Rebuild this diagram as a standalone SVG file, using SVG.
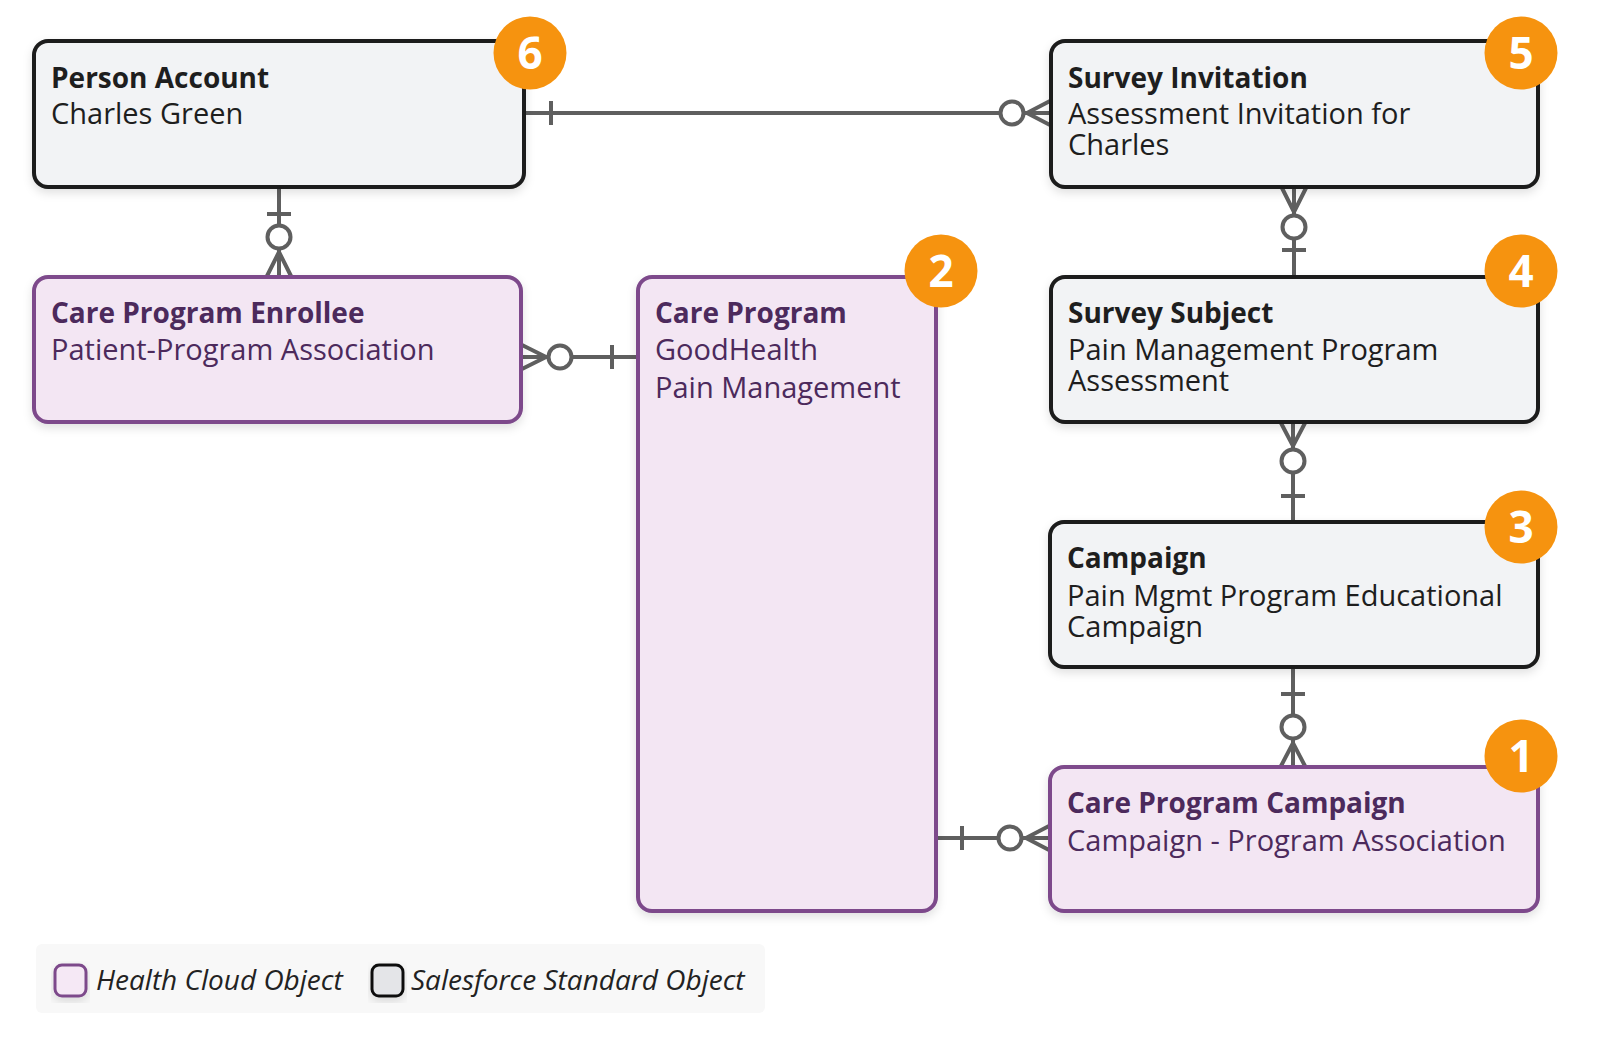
<svg xmlns="http://www.w3.org/2000/svg" width="1600" height="1043" viewBox="0 0 1600 1043">
<defs>
<filter id="sh" x="-10%" y="-10%" width="120%" height="130%">
<feDropShadow dx="0" dy="4" stdDeviation="5" flood-color="#000" flood-opacity="0.12"/>
</filter>
</defs>
<style>
.std{fill:#f2f3f5;stroke:#1b1b1b;stroke-width:4}
.hc{fill:#f3e6f3;stroke:#7d4a8b;stroke-width:4}
.t{font-family:"Open Sans","Noto Sans",sans-serif;font-size:29px}
.b{font-weight:700;font-size:28px}
.sd{fill:#1e1e1e}
.hp{fill:#4c2a5c}
.badge{fill:#f6930f}
.bn{font-family:"Open Sans","Noto Sans",sans-serif;font-size:44px;font-weight:700;fill:#fff;text-anchor:middle}
.c{stroke:#5f5f5f;stroke-width:4;fill:none}
.o{stroke:#5f5f5f;stroke-width:4;fill:#fff}
.lg{font-family:"Open Sans","Noto Sans",sans-serif;font-size:28px;font-style:italic;fill:#222}
</style>
<rect width="1600" height="1043" fill="#fff"/>

<g id="connectors">
<!-- Person Account to Survey Invitation -->
<line class="c" x1="524" y1="113" x2="1051" y2="113"/>
<line class="c" x1="551" y1="101" x2="551" y2="125"/>
<circle class="o" cx="1012" cy="113" r="11.5"/>
<polyline class="c" points="1050,101 1027,113 1050,125"/>
<!-- Person Account to Care Program Enrollee -->
<line class="c" x1="279" y1="187" x2="279" y2="277"/>
<line class="c" x1="267" y1="214" x2="291" y2="214"/>
<circle class="o" cx="279" cy="237" r="11.5"/>
<polyline class="c" points="267,276 279,252 291,276"/>
<!-- Care Program to Care Program Enrollee -->
<line class="c" x1="521" y1="357" x2="638" y2="357"/>
<polyline class="c" points="522,345 546,357 522,369"/>
<circle class="o" cx="560" cy="357" r="11.5"/>
<line class="c" x1="612" y1="345" x2="612" y2="369"/>
<!-- Survey Invitation to Survey Subject -->
<line class="c" x1="1294" y1="187" x2="1294" y2="277"/>
<polyline class="c" points="1282,188 1294,212 1306,188"/>
<circle class="o" cx="1294" cy="227" r="11.5"/>
<line class="c" x1="1282" y1="250" x2="1306" y2="250"/>
<!-- Campaign to Survey Subject -->
<line class="c" x1="1293" y1="422" x2="1293" y2="522"/>
<polyline class="c" points="1281,423 1293,446 1305,423"/>
<circle class="o" cx="1293" cy="461" r="11.5"/>
<line class="c" x1="1281" y1="496" x2="1305" y2="496"/>
<!-- Campaign to Care Program Campaign -->
<line class="c" x1="1293" y1="667" x2="1293" y2="767"/>
<line class="c" x1="1281" y1="694" x2="1305" y2="694"/>
<circle class="o" cx="1293" cy="727" r="11.5"/>
<polyline class="c" points="1281,766 1293,743 1305,766"/>
<!-- Care Program to Care Program Campaign -->
<line class="c" x1="936" y1="838" x2="1050" y2="838"/>
<line class="c" x1="962" y1="826" x2="962" y2="850"/>
<circle class="o" cx="1010" cy="838" r="11.5"/>
<polyline class="c" points="1049,826 1026,838 1049,850"/>
</g>

<g id="person-account">
<rect class="std" x="34" y="41" width="490" height="146" rx="14" filter="url(#sh)"/>
<text class="t b sd" x="51" y="88">Person Account</text>
<text class="t sd" x="51" y="124">Charles Green</text>
<circle class="badge" cx="530" cy="53" r="36.5"/>
<text class="bn" x="530" y="69">6</text>
</g>

<g id="survey-invitation">
<rect class="std" x="1051" y="41" width="487" height="146" rx="14" filter="url(#sh)"/>
<text class="t b sd" x="1068" y="88">Survey Invitation</text>
<text class="t sd" x="1068" y="124">Assessment Invitation for</text>
<text class="t sd" x="1068" y="155">Charles</text>
<circle class="badge" cx="1521" cy="53" r="36.5"/>
<text class="bn" x="1521" y="69">5</text>
</g>

<g id="care-program-enrollee">
<rect class="hc" x="34" y="277" width="487" height="145" rx="14" filter="url(#sh)"/>
<text class="t b hp" x="51" y="323">Care Program Enrollee</text>
<text class="t hp" x="51" y="360">Patient-Program Association</text>
</g>

<g id="care-program">
<rect class="hc" x="638" y="277" width="298" height="634" rx="14" filter="url(#sh)"/>
<text class="t b hp" x="655" y="323">Care Program</text>
<text class="t hp" x="655" y="360">GoodHealth</text>
<text class="t hp" x="655" y="398">Pain Management</text>
<circle class="badge" cx="941" cy="271" r="36.5"/>
<text class="bn" x="941" y="287">2</text>
</g>

<g id="survey-subject">
<rect class="std" x="1051" y="277" width="487" height="145" rx="14" filter="url(#sh)"/>
<text class="t b sd" x="1068" y="323">Survey Subject</text>
<text class="t sd" x="1068" y="360">Pain Management Program</text>
<text class="t sd" x="1068" y="391">Assessment</text>
<circle class="badge" cx="1521" cy="271" r="36.5"/>
<text class="bn" x="1521" y="287">4</text>
</g>

<g id="campaign">
<rect class="std" x="1050" y="522" width="488" height="145" rx="14" filter="url(#sh)"/>
<text class="t b sd" x="1067" y="568">Campaign</text>
<text class="t sd" x="1067" y="606">Pain Mgmt Program Educational</text>
<text class="t sd" x="1067" y="637">Campaign</text>
<circle class="badge" cx="1521" cy="527" r="36.5"/>
<text class="bn" x="1521" y="543">3</text>
</g>

<g id="care-program-campaign">
<rect class="hc" x="1050" y="767" width="488" height="144" rx="14" filter="url(#sh)"/>
<text class="t b hp" x="1067" y="813">Care Program Campaign</text>
<text class="t hp" x="1067" y="851">Campaign - Program Association</text>
<circle class="badge" cx="1521" cy="756" r="36.5"/>
<text class="bn" x="1521" y="772">1</text>
</g>

<g id="legend">
<rect x="36" y="944" width="729" height="69" rx="6" fill="#f8f8f8"/>
<rect x="55" y="965" width="31" height="31" rx="7" fill="#f5e8f5" stroke="#7d4a8b" stroke-width="3" filter="url(#sh)"/>
<text class="lg" x="96" y="990">Health Cloud Object</text>
<rect x="372" y="965" width="31" height="31" rx="7" fill="#e4e5e8" stroke="#111" stroke-width="3" filter="url(#sh)"/>
<text class="lg" x="411" y="990">Salesforce Standard Object</text>
</g>
</svg>
